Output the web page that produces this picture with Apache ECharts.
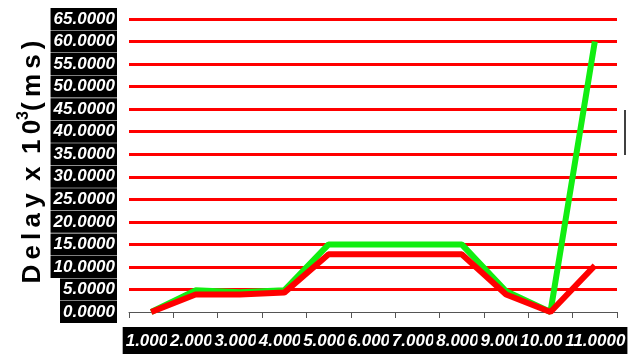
<!DOCTYPE html>
<html>
<head>
<meta charset="utf-8">
<style>html,body{margin:0;padding:0;background:#fff}#c{width:634px;height:354px}</style>
<script src="https://cdn.jsdelivr.net/npm/echarts@6/dist/echarts.min.js"></script>
</head>
<body>
<div id="c"></div>
<script>
var categories = ['1.0000','2.0000','3.0000','4.0000','5.0000','6.0000','7.0000','8.0000','9.0000','10.0000','11.0000'];
var greenValues = [0, 4.8, 4.4, 4.8, 15, 15, 15, 15, 4.6, 0, 60];
var redValues = [0, 3.9, 3.9, 4.3, 12.8, 12.8, 12.8, 12.8, 3.9, 0, 10.3];
var yTicks = {min: 0, max: 65, interval: 5};

var chart = echarts.init(document.getElementById('c'));
var T = '\u2009';
var labelFont = '"Liberation Sans", Arial, sans-serif';
chart.setOption({
  animation: false,
  grid: {left: 129, right: 17, top: 19, bottom: 42},
  xAxis: {
    type: 'category',
    data: categories,
    boundaryGap: true,
    axisLine: {show: true, lineStyle: {color: '#555', width: 1}},
    axisTick: {show: true, length: 6, lineStyle: {color: '#555'}},
    axisLabel: {
      interval: 0,
      margin: 15,
      color: '#fff',
      backgroundColor: '#000',
      fontFamily: labelFont,
      fontSize: 17,
      lineHeight: 17,
      fontWeight: 'bold',
      fontStyle: 'italic',
      padding: [6, 2, 4, 3]
    },
    splitLine: {show: false}
  },
  yAxis: {
    type: 'value',
    min: yTicks.min, max: yTicks.max, interval: yTicks.interval,
    axisLine: {show: false},
    axisTick: {show: false},
    axisLabel: {
      margin: 12,
      showMinLabel: true,
      showMaxLabel: true,
      hideOverlap: false,
      color: '#fff',
      backgroundColor: '#000',
      fontFamily: labelFont,
      fontSize: 17,
      lineHeight: 17,
      fontWeight: 'bold',
      fontStyle: 'italic',
      padding: [3, 2, 2, 3],
      formatter: function (v) { return v.toFixed(4); }
    },
    splitLine: {show: true, showMinLine: false, lineStyle: {color: '#ff0000', width: 3}}
  },
  series: [
    {type: 'line', data: greenValues, symbol: 'none', lineStyle: {color: '#11ee11', width: 6}, z: 3},
    {type: 'line', data: redValues, symbol: 'none', lineStyle: {color: '#ff0000', width: 6}, z: 4}
  ],
  graphic: [
    {
      type: 'text',
      x: 33, y: 162,
      rotation: Math.PI / 2,
      style: {
        text: '{n|D'+T+'e'+T+'l'+T+'a'+T+'y'+T+' x '+T+'1'+T+'0}{s|3}{n|('+T+'m'+T+'s'+T+')}',
        font: 'bold 26px "Liberation Sans"',
        fill: '#000',
        align: 'center',
        verticalAlign: 'middle',
        rich: {
          n: {font: 'bold 26px "Liberation Sans"', fill: '#000', lineHeight: 34, verticalAlign: 'middle'},
          s: {font: 'bold 16px "Liberation Sans"', fill: '#000', lineHeight: 16, verticalAlign: 'top'}
        }
      }
    },
    {
      type: 'line',
      shape: {x1: 625, y1: 110, x2: 625, y2: 155},
      style: {stroke: '#000', lineWidth: 1.5}
    }
  ]
});
</script>
</body>
</html>
